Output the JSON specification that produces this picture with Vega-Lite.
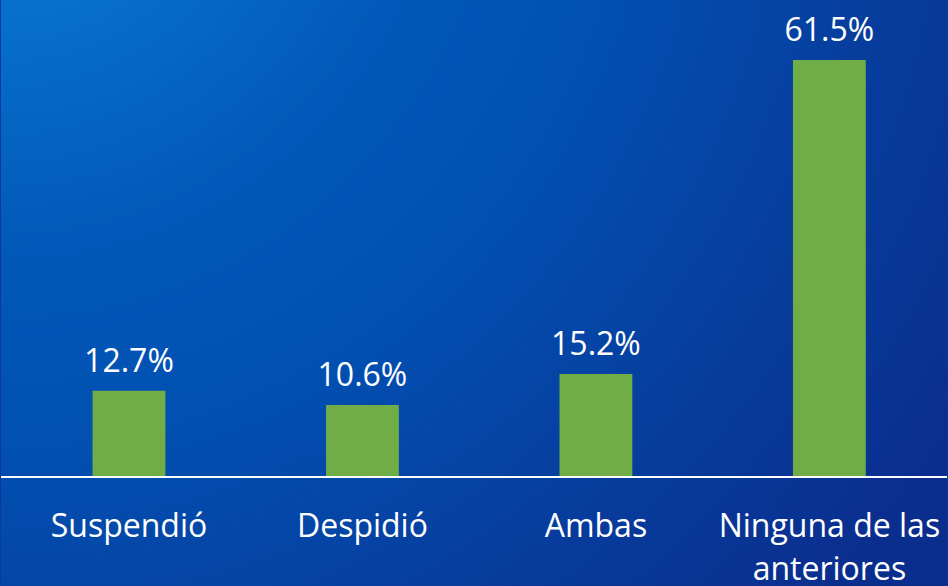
{
  "$schema": "https://vega.github.io/schema/vega-lite/v6.json",
  "width": 948,
  "height": 586,
  "padding": 0,
  "autosize": {"type": "fit", "contains": "padding"},
  "background": "#0a3a98",
  "config": {
    "view": {
      "stroke": null,
      "fill": {
        "gradient": "radial",
        "x1": 0, "y1": 0, "r1": 0,
        "x2": 0, "y2": 0, "r2": 1.2,
        "stops": [
          {"offset": 0, "color": "#0a80d8"},
          {"offset": 0.15, "color": "#0772ce"},
          {"offset": 0.38, "color": "#0258b8"},
          {"offset": 0.55, "color": "#0150b2"},
          {"offset": 0.8, "color": "#073c9c"},
          {"offset": 1, "color": "#0a2e8e"}
        ]
      }
    }
  },
  "data": {
    "values": [
      {"cat": "Suspendió", "pct": 12.7},
      {"cat": "Despidió", "pct": 10.6},
      {"cat": "Ambas", "pct": 15.2},
      {"cat": "Ninguna de las anteriores", "pct": 61.5}
    ]
  },
  "encoding": {
    "x": {
      "field": "cat",
      "type": "nominal",
      "sort": null,
      "axis": null,
      "scale": {"paddingInner": 0.688, "paddingOuter": 0.37, "align": 0.53}
    }
  },
  "layer": [
    {
      "mark": {"type": "bar", "color": "#70ad47"},
      "encoding": {
        "y": {"field": "pct", "type": "quantitative", "axis": null,
              "scale": {"domain": [-16.08, 70.35], "nice": false, "zero": false}}
      }
    },
    {
      "transform": [{"calculate": "format(datum.pct, '.1f') + '%'", "as": "lbl"}],
      "mark": {"type": "text", "color": "white", "font": "Open Sans", "fontSize": 32,
               "baseline": "alphabetic", "dy": -19},
      "encoding": {
        "y": {"field": "pct", "type": "quantitative"},
        "text": {"field": "lbl", "type": "nominal"}
      }
    },
    {
      "transform": [{"calculate": "datum.cat == 'Ninguna de las anteriores' ? ['Ninguna de las', 'anteriores'] : datum.cat", "as": "lines"}],
      "mark": {"type": "text", "color": "white", "font": "Open Sans", "fontSize": 32,
               "baseline": "alphabetic", "dy": 60, "lineHeight": 43},
      "encoding": {
        "y": {"datum": 0, "type": "quantitative"},
        "text": {"field": "lines"}
      }
    },
    {
      "mark": {"type": "rule", "color": "white", "strokeWidth": 2},
      "encoding": {
        "y": {"datum": 0, "type": "quantitative"},
        "x": null
      }
    }
  ]
}
